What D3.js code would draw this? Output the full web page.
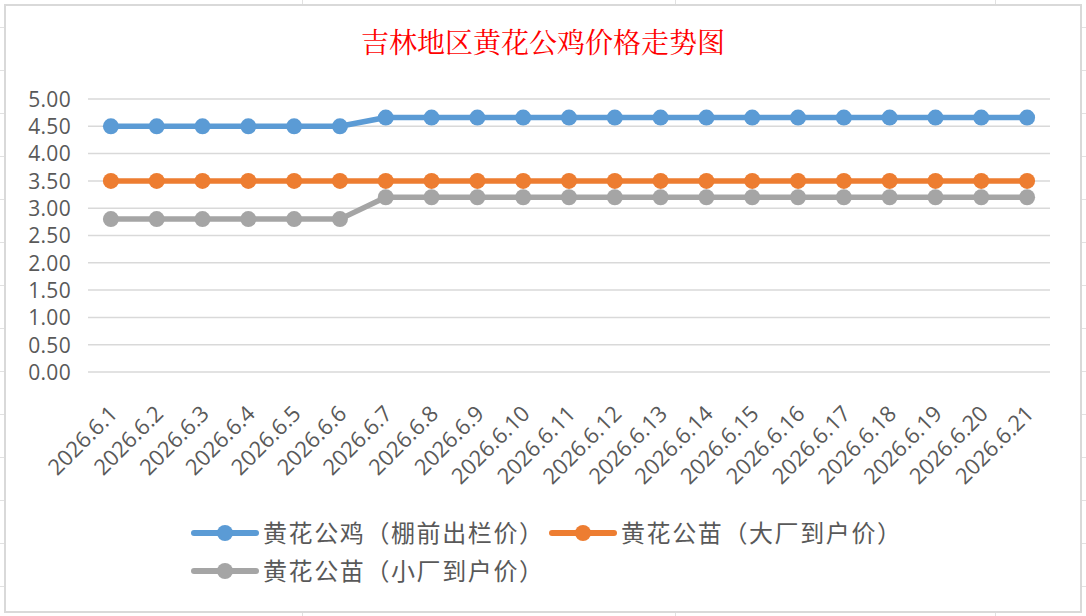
<!DOCTYPE html>
<html><head><meta charset="utf-8">
<script src="https://cdn.jsdelivr.net/npm/d3@7"></script>
<style>body{margin:0;background:#fff}svg{display:block}</style>
</head><body>
<svg id="c" width="1086" height="616"></svg>
<script>
const title = "吉林地区黄花公鸡价格走势图";
const categories = ["2026.6.1","2026.6.2","2026.6.3","2026.6.4","2026.6.5","2026.6.6","2026.6.7","2026.6.8","2026.6.9","2026.6.10","2026.6.11","2026.6.12","2026.6.13","2026.6.14","2026.6.15","2026.6.16","2026.6.17","2026.6.18","2026.6.19","2026.6.20","2026.6.21"];
const seriesNames = ["黄花公鸡（棚前出栏价）","黄花公苗（大厂到户价）","黄花公苗（小厂到户价）"];
const chickenPrice = [4.5,4.5,4.5,4.5,4.5,4.5,4.66,4.66,4.66,4.66,4.66,4.66,4.66,4.66,4.66,4.66,4.66,4.66,4.66,4.66,4.66];
const bigChickPrice = [3.5,3.5,3.5,3.5,3.5,3.5,3.5,3.5,3.5,3.5,3.5,3.5,3.5,3.5,3.5,3.5,3.5,3.5,3.5,3.5,3.5];
const smallChickPrice = [2.8,2.8,2.8,2.8,2.8,2.8,3.2,3.2,3.2,3.2,3.2,3.2,3.2,3.2,3.2,3.2,3.2,3.2,3.2,3.2,3.2];
const yTicks = [0,0.5,1,1.5,2,2.5,3,3.5,4,4.5,5];
const colors = ["#5B9BD5","#ED7D31","#A5A5A5"];

const svg = d3.select("#c");
const W = 1086, H = 616;
const fontNum = "'Open Sans','Noto Sans',sans-serif";
const fontCJK = "'Noto Sans CJK SC',sans-serif";

// background spreadsheet grid (outside chart)
const bg = svg.append("g").attr("stroke","#E1E1E1").attr("stroke-width",1);
d3.range(27, 616, 43).forEach(y => {
  bg.append("line").attr("x1",0).attr("x2",W).attr("y1",y+0.5).attr("y2",y+0.5);
});
[302,675,995].forEach(x => {
  bg.append("line").attr("x1",x+0.5).attr("x2",x+0.5).attr("y1",0).attr("y2",H);
});
// chart area
svg.append("rect").attr("x",5).attr("y",5).attr("width",1076).attr("height",607)
  .attr("fill","#fff").attr("stroke","#D9D9D9").attr("stroke-width",2);

// title
svg.append("text").attr("x",543).attr("y",53).attr("text-anchor","middle")
  .attr("font-family","'Noto Serif CJK SC','Noto Sans CJK SC',serif").attr("font-size",28)
  .attr("fill","#FF0000").text(title);

const x = d3.scalePoint().domain(categories).range([88,1050]).padding(0.5);
const y = d3.scaleLinear().domain([0,5]).range([372,99]);

// gridlines
const grid = svg.append("g");
grid.selectAll("line").data(yTicks).join("line")
  .attr("x1",88).attr("x2",1050)
  .attr("y1",d=>y(d)).attr("y2",d=>y(d))
  .attr("stroke","#D9D9D9").attr("stroke-width",1.5);

// y axis labels
const yAxis = d3.axisLeft(y).tickValues(yTicks).tickFormat(d3.format(".2f")).tickSize(0).tickPadding(0);
const gy = svg.append("g").attr("transform","translate(71,0)").call(yAxis);
gy.select(".domain").remove();
gy.selectAll("text").attr("font-family",fontNum).attr("font-size",21).attr("fill","#595959")
  .attr("letter-spacing",0.3).attr("dy","0.35em");

// x axis labels
const xAxis = d3.axisBottom(x).tickSize(0).tickPadding(0);
const gx = svg.append("g").call(xAxis);
gx.select(".domain").remove();
gx.selectAll(".tick").attr("transform", d => `translate(${x(d)+8},415)`);
gx.selectAll("text").attr("font-family",fontNum).attr("font-size",22).attr("fill","#595959")
  .attr("text-anchor","end").attr("dy",0).attr("y",0).attr("transform","rotate(-45)");

// series
const allSeries = [chickenPrice, bigChickPrice, smallChickPrice];
const line = d3.line().x((d,i)=>x(categories[i])).y(d=>y(d));
[2,1,0].forEach(k => {
  const g = svg.append("g");
  g.append("path").datum(allSeries[k]).attr("d",line).attr("fill","none")
    .attr("stroke",colors[k]).attr("stroke-width",5.5).attr("stroke-linejoin","round");
  g.selectAll("circle").data(allSeries[k]).join("circle")
    .attr("cx",(d,i)=>x(categories[i])).attr("cy",d=>y(d)).attr("r",8).attr("fill",colors[k]);
});

// legend
const legendPos = [[194,533],[552,533],[194,571]];
seriesNames.forEach((name,k) => {
  const [lx,ly] = legendPos[k];
  const g = svg.append("g");
  g.append("line").attr("x1",lx).attr("x2",lx+62).attr("y1",ly).attr("y2",ly)
    .attr("stroke",colors[k]).attr("stroke-width",6).attr("stroke-linecap","round");
  g.append("circle").attr("cx",lx+31).attr("cy",ly).attr("r",8).attr("fill",colors[k]);
  g.append("text").attr("x",lx+69).attr("y",ly).attr("dy","0.36em")
    .attr("font-family",fontCJK).attr("font-size",24).attr("letter-spacing",1.6)
    .attr("fill","#595959").text(name);
});
</script>
</body></html>
